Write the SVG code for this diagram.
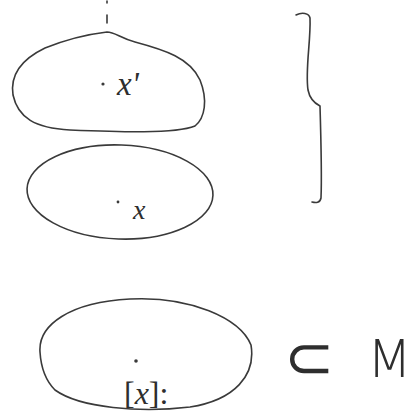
<svg xmlns="http://www.w3.org/2000/svg" width="416" height="412" viewBox="0 0 416 412">
<style>
.s{fill:none;stroke:#3a3a3a;stroke-width:1.6;stroke-linecap:round;stroke-linejoin:round}
.d{fill:#3a3a3a}
.t{font-family:"Liberation Serif",serif;font-style:italic;fill:#2e2e2e}
.n{font-style:normal}
.u{font-family:"DejaVu Sans","Liberation Sans",sans-serif;fill:#2e2e2e}
</style>
<rect width="416" height="412" fill="#fff"/>
<g id="top-set">
<path class="s" d="M107,1 L107,3 M107,15 L107,23"/>
<path class="s" d="M107,32 C115,32 120,38 135,42 C165,50 190,58 200,80 C208,100 205,118 195,126 C175,134 120,132 70,130 C35,128 18,118 13,95 C10,75 20,60 45,48 C65,40 90,34 107,32 Z"/>
<circle class="d" cx="103" cy="84" r="1.6"/>
<text class="t" x="117" y="95" font-size="33">x'</text>
</g>
<g id="middle-set">
<ellipse class="s" cx="120" cy="192" rx="93" ry="47" transform="rotate(2 120 192)"/>
<circle class="d" cx="118" cy="202" r="1.4"/>
<text class="t" x="133" y="219" font-size="28">x</text>
</g>
<g id="bottom-set">
<path class="s" d="M40,352 C38,325 70,302 130,299 C190,296 240,318 251,345 C256,375 235,400 190,407 C140,413 80,408 55,390 C45,380 41,368 40,352 Z"/>
<circle class="d" cx="136" cy="361" r="1.8"/>
<text class="t n" x="124" y="404" font-size="32">[<tspan class="t">x</tspan>]:</text>
</g>
<g id="subset">
<text class="u" x="284" y="378" font-size="60" font-weight="200">⊂</text>
<text class="u" x="367" y="377" font-size="52" font-weight="200">M</text>
</g>
<g id="brace">
<path class="s" d="M296,15 C302,12 309,13 310,18 C311,40 305,70 308,90 C310,100 316,104 320,106 C321,140 322,175 321,198 C320,203 316,203 312,202"/>
</g>
</svg>
